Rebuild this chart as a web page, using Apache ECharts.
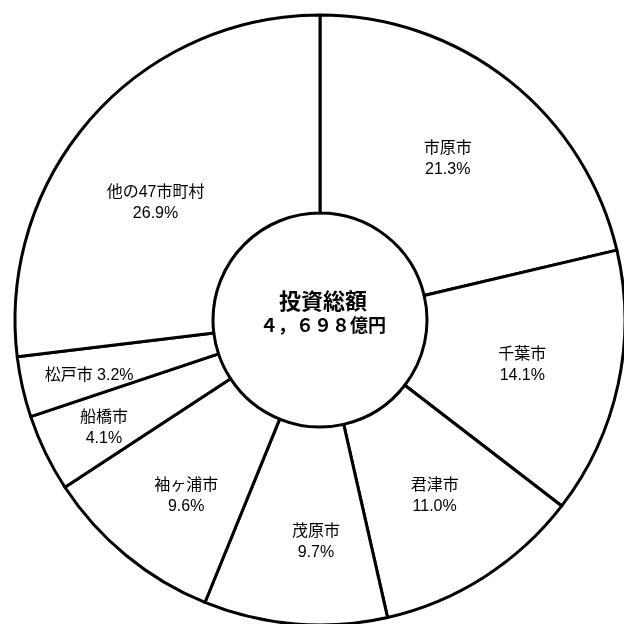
<!DOCTYPE html>
<html>
<head>
<meta charset="utf-8">
<script src="https://cdn.jsdelivr.net/npm/echarts@6/dist/echarts.min.js"></script>
<style>
  html, body { margin: 0; padding: 0; background: #fff; }
  #chart { width: 624px; height: 624px; }
</style>
</head>
<body>
<div id="chart"></div>
<script>
// Investment share by municipality (percent of total)
const cities = ['市原市', '千葉市', '君津市', '茂原市', '袖ヶ浦市', '船橋市', '松戸市', '他の47市町村'];
const shares = [21.3, 14.1, 11.0, 9.7, 9.6, 4.1, 3.2, 26.9];
const totalTitle = '投資総額';
const totalAmount = '４，６９８億円';

// Small nudges for individual slice labels (px)
const labelNudge = [[-2, 3], [-2, 1], [2, 0], [13, 14], [-1, 15], [-28, 17], [-27, 10], [-8, 22]];

const chart = echarts.init(document.getElementById('chart'), null, { renderer: 'canvas' });

const labelFont = '"Liberation Sans", Arial, "Noto Sans CJK JP", sans-serif';

chart.setOption({
  animation: false,
  backgroundColor: '#ffffff',
  graphic: [{
    type: 'text',
    x: 323,
    y: 313,
    z: 100,
    style: {
      text: '{a|' + totalTitle + '}\n{b|' + totalAmount + '}',
      align: 'center',
      verticalAlign: 'middle',
      rich: {
        a: { fontSize: 22, fontWeight: 'bold', fontFamily: '"Noto Sans CJK JP", sans-serif', lineHeight: 25, fill: '#000', align: 'center' },
        b: { fontSize: 18, fontWeight: 'bold', fontFamily: '"Noto Sans CJK JP", sans-serif', lineHeight: 25, fill: '#000', align: 'center' }
      }
    }
  }],
  series: [{
    type: 'pie',
    center: [320, 320],
    radius: [107, 305],
    startAngle: 90,
    clockwise: true,
    avoidLabelOverlap: false,
    silent: true,
    itemStyle: { color: '#ffffff', borderColor: '#000000', borderWidth: 3 },
    label: {
      show: true,
      position: 'inside',
      color: '#000',
      fontSize: 16,
      lineHeight: 21,
      fontFamily: labelFont,
      formatter: p => p.name + (p.name === '松戸市' ? ' ' : '\n') + p.value.toFixed(1) + '%'
    },
    labelLayout: p => ({ dx: labelNudge[p.dataIndex][0], dy: labelNudge[p.dataIndex][1] }),
    labelLine: { show: false },
    data: cities.map((c, i) => ({ name: c, value: shares[i] }))
  }]
});
</script>
</body>
</html>
